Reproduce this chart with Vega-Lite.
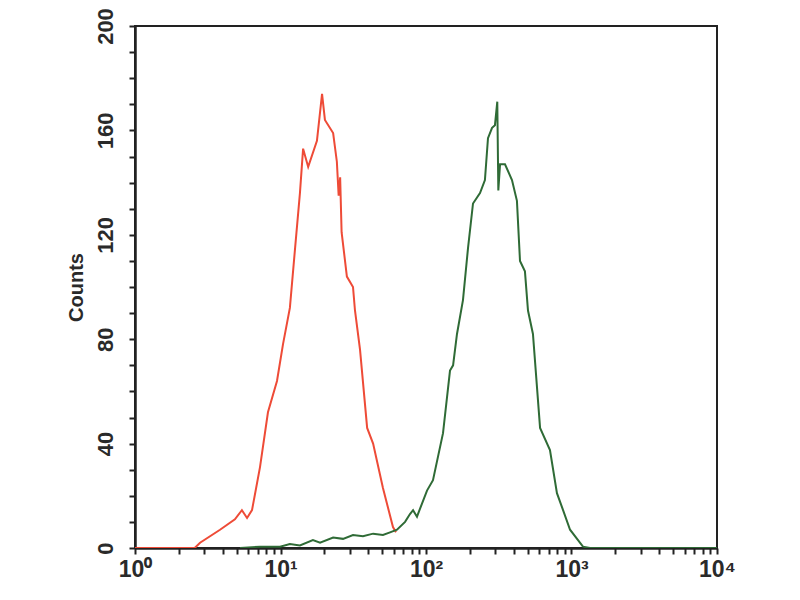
{
  "$schema": "https://vega.github.io/schema/vega-lite/v6.json",
  "autosize": "none",
  "width": 582,
  "height": 522,
  "padding": {"left": 135, "top": 26, "right": 83, "bottom": 52},
  "background": "white",
  "config": {
    "view": {"stroke": "#222", "strokeWidth": 2},
    "font": "Liberation Sans"
  },
  "data": {
    "values": [
      {"series": "control", "intensity": 1, "count": 0},
      {"series": "control", "intensity": 2.57, "count": 0},
      {"series": "control", "intensity": 2.8, "count": 2},
      {"series": "control", "intensity": 3.84, "count": 7},
      {"series": "control", "intensity": 4.86, "count": 11},
      {"series": "control", "intensity": 5.43, "count": 14.5},
      {"series": "control", "intensity": 5.89, "count": 11.5},
      {"series": "control", "intensity": 6.37, "count": 14.5},
      {"series": "control", "intensity": 7.23, "count": 31},
      {"series": "control", "intensity": 8.2, "count": 52},
      {"series": "control", "intensity": 9.46, "count": 64},
      {"series": "control", "intensity": 10.4, "count": 78},
      {"series": "control", "intensity": 11.6, "count": 92},
      {"series": "control", "intensity": 12.6, "count": 115},
      {"series": "control", "intensity": 13.6, "count": 136},
      {"series": "control", "intensity": 14.3, "count": 153},
      {"series": "control", "intensity": 15.5, "count": 146},
      {"series": "control", "intensity": 17.8, "count": 156},
      {"series": "control", "intensity": 19.3, "count": 174},
      {"series": "control", "intensity": 20.2, "count": 164},
      {"series": "control", "intensity": 23.0, "count": 159},
      {"series": "control", "intensity": 24.4, "count": 148},
      {"series": "control", "intensity": 25.1, "count": 135},
      {"series": "control", "intensity": 25.7, "count": 142},
      {"series": "control", "intensity": 26.3, "count": 121},
      {"series": "control", "intensity": 28.6, "count": 104},
      {"series": "control", "intensity": 31.5, "count": 100},
      {"series": "control", "intensity": 32.5, "count": 91},
      {"series": "control", "intensity": 35.2, "count": 76},
      {"series": "control", "intensity": 39.4, "count": 46},
      {"series": "control", "intensity": 43.3, "count": 40},
      {"series": "control", "intensity": 50.6, "count": 23},
      {"series": "control", "intensity": 59.3, "count": 8},
      {"series": "control", "intensity": 62.2, "count": 6},
      {"series": "sample", "intensity": 5.27, "count": 0},
      {"series": "sample", "intensity": 7.23, "count": 0.5},
      {"series": "sample", "intensity": 9.93, "count": 0.5},
      {"series": "sample", "intensity": 11.6, "count": 1.5},
      {"series": "sample", "intensity": 13.6, "count": 1},
      {"series": "sample", "intensity": 16.7, "count": 3},
      {"series": "sample", "intensity": 18.7, "count": 2},
      {"series": "sample", "intensity": 23.0, "count": 4},
      {"series": "sample", "intensity": 26.9, "count": 3.5},
      {"series": "sample", "intensity": 31.5, "count": 5},
      {"series": "sample", "intensity": 36.9, "count": 4.5},
      {"series": "sample", "intensity": 43.3, "count": 5.5},
      {"series": "sample", "intensity": 50.6, "count": 5},
      {"series": "sample", "intensity": 56.6, "count": 6},
      {"series": "sample", "intensity": 63.2, "count": 7},
      {"series": "sample", "intensity": 71.8, "count": 10},
      {"series": "sample", "intensity": 77.6, "count": 13},
      {"series": "sample", "intensity": 81.5, "count": 14.5},
      {"series": "sample", "intensity": 86.7, "count": 12},
      {"series": "sample", "intensity": 95.3, "count": 18},
      {"series": "sample", "intensity": 101.6, "count": 22},
      {"series": "sample", "intensity": 111.7, "count": 26},
      {"series": "sample", "intensity": 130.9, "count": 44},
      {"series": "sample", "intensity": 146.2, "count": 68},
      {"series": "sample", "intensity": 153.5, "count": 70},
      {"series": "sample", "intensity": 163.3, "count": 82},
      {"series": "sample", "intensity": 179.5, "count": 95},
      {"series": "sample", "intensity": 194.5, "count": 115},
      {"series": "sample", "intensity": 210.4, "count": 132},
      {"series": "sample", "intensity": 235.0, "count": 136},
      {"series": "sample", "intensity": 254.1, "count": 141},
      {"series": "sample", "intensity": 266.7, "count": 157},
      {"series": "sample", "intensity": 284.4, "count": 161},
      {"series": "sample", "intensity": 297.8, "count": 162},
      {"series": "sample", "intensity": 309.0, "count": 171},
      {"series": "sample", "intensity": 314.1, "count": 137},
      {"series": "sample", "intensity": 322.8, "count": 147},
      {"series": "sample", "intensity": 349.1, "count": 147},
      {"series": "sample", "intensity": 389.9, "count": 141},
      {"series": "sample", "intensity": 421.7, "count": 133},
      {"series": "sample", "intensity": 442.6, "count": 110},
      {"series": "sample", "intensity": 478.6, "count": 106},
      {"series": "sample", "intensity": 502.3, "count": 91},
      {"series": "sample", "intensity": 543.3, "count": 82},
      {"series": "sample", "intensity": 608.1, "count": 46},
      {"series": "sample", "intensity": 711.2, "count": 37.5},
      {"series": "sample", "intensity": 794.3, "count": 21},
      {"series": "sample", "intensity": 875, "count": 14.5},
      {"series": "sample", "intensity": 977.2, "count": 7},
      {"series": "sample", "intensity": 1199, "count": 0.5},
      {"series": "sample", "intensity": 1340, "count": 0},
      {"series": "sample", "intensity": 10000, "count": 0}
    ]
  },
  "mark": {"type": "line", "strokeWidth": 2, "clip": true},
  "encoding": {
    "x": {
      "field": "intensity",
      "type": "quantitative",
      "scale": {"type": "log", "domain": [1, 10000], "nice": false},
      "axis": {
        "title": null,
        "grid": false,
        "values": [1,2,3,4,5,6,7,8,9,10,20,30,40,50,60,70,80,90,100,200,300,400,500,600,700,800,900,1000,2000,3000,4000,5000,6000,7000,8000,9000,10000],
        "labelExpr": "datum.value == 1 ? '10⁰' : datum.value == 10 ? '10¹' : datum.value == 100 ? '10²' : datum.value == 1000 ? '10³' : datum.value == 10000 ? '10⁴' : ''",
        "labelFontSize": 23,
        "labelFontWeight": "bold",
        "labelColor": "#2a2a2a",
        "labelPadding": 4,
        "labelFlush": false,
        "labelOverlap": false,
        "tickSize": 6,
        "tickColor": "#222",
        "tickWidth": 2,
        "domainColor": "#222",
        "domainWidth": 2.5
      }
    },
    "y": {
      "field": "count",
      "type": "quantitative",
      "scale": {"domain": [0, 200], "nice": false},
      "axis": {
        "title": "Counts",
        "titleFontSize": 20,
        "titleFontWeight": "bold",
        "titleColor": "#2a2a2a",
        "titlePadding": 8,
        "grid": false,
        "values": [0,10,20,30,40,50,60,70,80,90,100,110,120,130,140,150,160,170,180,190,200],
        "labelExpr": "datum.value % 40 == 0 ? datum.label : ''",
        "labelAngle": -90,
        "labelAlign": "center",
        "labelBaseline": "bottom",
        "labelFontSize": 22,
        "labelFontWeight": "bold",
        "labelColor": "#2a2a2a",
        "labelPadding": 12,
        "labelFlush": false,
        "labelOverlap": false,
        "tickSize": 6,
        "tickColor": "#222",
        "tickWidth": 2,
        "domainColor": "#222",
        "domainWidth": 2.5
      }
    },
    "color": {
      "field": "series",
      "type": "nominal",
      "scale": {"domain": ["control", "sample"], "range": ["#ee4b37", "#2f6b36"]},
      "legend": null
    }
  }
}
